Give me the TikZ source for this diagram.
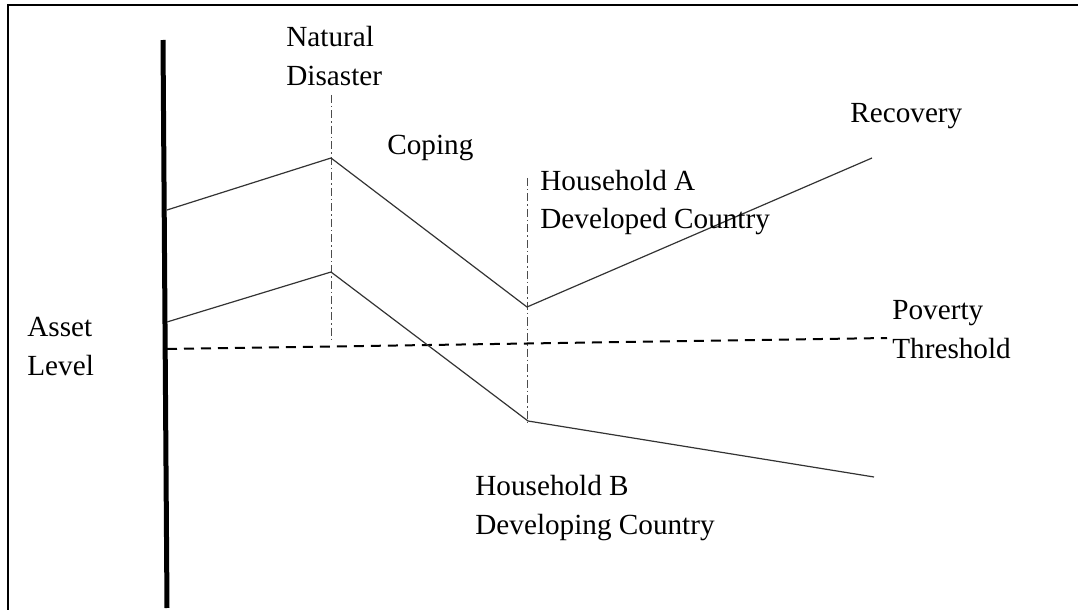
\documentclass[tikz,border=0pt]{standalone}
\usepackage{fontspec}
\setmainfont{Liberation Serif}
\usepackage{tikz}
\usetikzlibrary{positioning}

\begin{document}
\begin{tikzpicture}[x=0.5pt,y=-0.5pt,
  label/.style={anchor=base west,inner sep=0pt,align=left,font=\fontsize{14.6}{19.5}\selectfont},
  path/.style={draw=black!80,line width=0.6pt},
  marker/.style={draw=black!70,line width=0.5pt,dash pattern=on 4pt off 1.5pt on 0.75pt off 1.5pt},
  threshold/.style={draw,line width=1pt,dash pattern=on 5pt off 3.5pt}]
  \useasboundingbox (0,0) rectangle (1078,610);
  \draw[line width=1pt] (8,610) -- (8,5) -- (1078,5);
  \coordinate (ytop) at (163,40);
  \coordinate (ybot) at (167,608);
  \draw[line width=2.5pt] (ytop) -- (ybot);
  \coordinate (a0) at (167,210);
  \coordinate (a1) at (331,158);
  \coordinate (a2) at (527,307);
  \coordinate (a3) at (872,158);
  \coordinate (b0) at (167,322);
  \coordinate (b1) at (331,272);
  \coordinate (b2) at (528,421);
  \coordinate (b3) at (874,477);
  \coordinate (p0) at (167,349);
  \coordinate (p1) at (887,338);
  \coordinate (d1) at (331,95);
  \coordinate (d1b) at (331,342);
  \coordinate (d2) at (527,178);
  \coordinate (d2b) at (527,424);
  \draw[marker] (d1) -- (d1b);
  \draw[marker] (d2) -- (d2b);
  \draw[threshold] (p0) -- (p1);
  \draw[path] (a0) -- (a1) -- (a2) -- (a3);
  \draw[path] (b0) -- (b1) -- (b2) -- (b3);
  \node[label] (disaster) at (286,86) {Natural\\Disaster};
  \node[label] (coping) at (387,155) {Coping};
  \node[label] (recovery) at (850,123) {Recovery};
  \node[label] (hha) at (540,229) {Household A\\Developed Country};
  \node[label] (hhb) at (475,534) {Household B\\Developing Country};
  \node[label] (asset) at (27,375) {Asset\\Level};
  \node[label] (poverty) at (892,358) {Poverty\\Threshold};
\end{tikzpicture}
\end{document}
